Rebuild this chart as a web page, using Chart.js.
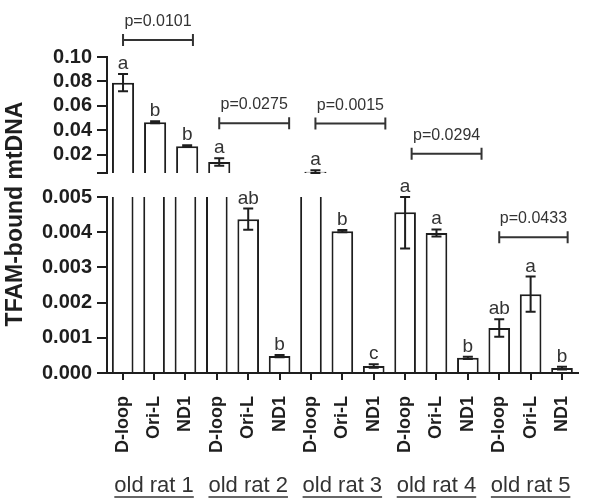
<!DOCTYPE html>
<html>
<head>
<meta charset="utf-8">
<script src="https://cdn.jsdelivr.net/npm/chart.js@4.4.0/dist/chart.umd.min.js"></script>
<style>
body { margin: 0; background: #fff; }
#wrap { position: relative; width: 600px; height: 502px; }
canvas { position: absolute; left: 0; top: 0; }
</style>
</head>
<body>
<div id="wrap">
  <canvas id="lower" width="600" height="502"></canvas>
  <canvas id="upper" width="600" height="502"></canvas>
</div>
<script>
const groups = ['old rat 1', 'old rat 2', 'old rat 3', 'old rat 4', 'old rat 5'];
const targets = ['D-loop', 'Ori-L', 'ND1'];
const labels = groups.flatMap(() => targets);

const means = [0.079, 0.0465, 0.027, 0.014, 0.00437, 0.00048, 0.006, 0.00403, 0.0002,
               0.00457, 0.00398, 0.00043, 0.00128, 0.00224, 0.00014];
const sems = [0.007, 0.0008, 0.0008, 0.003, 0.0003, 0.00003, 0.0012, 0.00003, 0.00005,
              0.00103, 0.0001, 0.00003, 0.00025, 0.0005, 0.00004];
const letters = ['a', 'b', 'b', 'a', 'ab', 'b', 'a', 'b', 'c', 'a', 'a', 'b', 'ab', 'a', 'b'];

const pValues = ['p=0.0101', 'p=0.0275', 'p=0.0015', 'p=0.0294', 'p=0.0433'];
const pLevels = [0.114, 0.0457, 0.0455, 0.0208, 0.00386];
const pPanel = ['upper', 'upper', 'upper', 'upper', 'lower'];

const split = 0.005;
const upperTicks = [0.005, 0.02, 0.04, 0.06, 0.08, 0.10];

const ink = '#1e1e1e';
const soft = '#333';

function marks(panel) {
    return {
        id: 'marks_' + panel,
        afterDatasetsDraw(chart) {
            const ctx = chart.ctx, x = chart.scales.x, y = chart.scales.y;
            const inPanel = v => panel === 'upper' ? v > split : v <= split;
            ctx.save();
            ctx.strokeStyle = ink;
            ctx.lineWidth = 2;
            // error bars + letters
            means.forEach((m, i) => {
                if (!inPanel(m)) return;
                const cx = x.getPixelForValue(i);
                const hi = y.getPixelForValue(Math.min(m + sems[i], y.max));
                const lo = y.getPixelForValue(Math.max(m - sems[i], y.min));
                ctx.beginPath();
                ctx.moveTo(cx, hi); ctx.lineTo(cx, lo);
                ctx.moveTo(cx - 5, hi); ctx.lineTo(cx + 5, hi);
                ctx.moveTo(cx - 5, lo); ctx.lineTo(cx + 5, lo);
                ctx.stroke();
                ctx.fillStyle = soft;
                ctx.font = '19px Arial';
                ctx.textAlign = 'center';
                ctx.textBaseline = 'alphabetic';
                ctx.fillText(letters[i], cx, hi - 5);
            });
            // p-value brackets
            ctx.strokeStyle = soft;
            pValues.forEach((p, g) => {
                if (pPanel[g] !== panel) return;
                const x1 = x.getPixelForValue(3 * g);
                const x2 = x.getPixelForValue(3 * g + 2.18);
                const yb = y.getPixelForValue(pLevels[g]);
                ctx.beginPath();
                ctx.moveTo(x1, yb); ctx.lineTo(x2, yb);
                ctx.moveTo(x1, yb - 6); ctx.lineTo(x1, yb + 6);
                ctx.moveTo(x2, yb - 6); ctx.lineTo(x2, yb + 6);
                ctx.stroke();
                ctx.fillStyle = soft;
                ctx.font = '16px Arial';
                ctx.textAlign = 'center';
                ctx.fillText(p, (x1 + x2) / 2, yb - 14);
            });
            if (panel === 'lower') {
                // group labels, underlined
                ctx.font = '22px Arial';
                ctx.fillStyle = soft;
                ctx.strokeStyle = '#666';
                groups.forEach((name, g) => {
                    const cx = x.getPixelForValue(3 * g + 1);
                    const w = ctx.measureText(name).width;
                    ctx.fillText(name, cx, 492);
                    ctx.beginPath();
                    ctx.moveTo(cx - w / 2, 497); ctx.lineTo(cx + w / 2, 497);
                    ctx.stroke();
                });
                // shared y title
                ctx.translate(16, 214);
                ctx.rotate(-Math.PI / 2);
                ctx.font = 'bold 23px Arial';
                ctx.fillStyle = ink;
                ctx.textBaseline = 'middle';
                ctx.fillText('TFAM-bound mtDNA', 0, 0);
            }
            ctx.restore();
        }
    };
}

const tickFont = { family: 'Arial', size: 20, weight: 'bold' };

function yAxis(extra) {
    return Object.assign({
        afterFit: s => { s.width = 107; },
        grid: { display: true, drawOnChartArea: false, tickLength: 10, color: ink, lineWidth: 2 },
        border: { color: ink, width: 2 },
    }, extra);
}

new Chart(document.getElementById('lower'), {
    type: 'bar',
    data: {
        labels: labels,
        datasets: [{
            data: means.map(m => [0, Math.min(m, split)]),
            backgroundColor: '#fff',
            borderColor: ink,
            borderSkipped: false,
            borderWidth: c => ({ left: 2, right: 2, bottom: 0, top: means[c.dataIndex] > split ? 0 : 2 }),
            barPercentage: 0.69,
            categoryPercentage: 1
        }]
    },
    options: {
        responsive: false,
        animation: false,
        layout: { padding: { top: 197, bottom: 0, left: 0, right: 12 } },
        plugins: { legend: { display: false }, tooltip: { enabled: false } },
        scales: {
            x: {
                offset: true,
                afterFit: s => { s.height = 129; },
                grid: { display: true, offset: false, drawOnChartArea: false, tickLength: 7, color: ink, lineWidth: 2 },
                border: { color: ink, width: 2 },
                ticks: {
                    autoSkip: false, minRotation: 90, maxRotation: 90, padding: 16,
                    color: ink, font: { family: 'Arial', size: 18, weight: 'bold' }
                }
            },
            y: yAxis({
                min: 0, max: split,
                ticks: { stepSize: 0.001, autoSkip: false, padding: 5, color: ink, font: tickFont, callback: v => v.toFixed(3) }
            })
        }
    },
    plugins: [marks('lower')]
});

new Chart(document.getElementById('upper'), {
    type: 'bar',
    data: {
        labels: labels,
        datasets: [{
            data: means.map(m => m > split ? [split, m] : null),
            backgroundColor: '#fff',
            borderColor: ink,
            borderSkipped: false,
            borderWidth: { left: 2, right: 2, bottom: 0, top: 2 },
            barPercentage: 0.69,
            categoryPercentage: 1
        }]
    },
    options: {
        responsive: false,
        animation: false,
        layout: { padding: { top: 57, bottom: 329, left: 0, right: 12 } },
        plugins: { legend: { display: false }, tooltip: { enabled: false } },
        scales: {
            x: { display: false, offset: true },
            y: yAxis({
                min: split, max: 0.10,
                afterBuildTicks: s => { s.ticks = upperTicks.map(v => ({ value: v })); },
                ticks: { autoSkip: false, padding: 5, color: ink, font: tickFont, callback: v => v === split ? '' : v.toFixed(2) }
            })
        }
    },
    plugins: [marks('upper')]
});
</script>
</body>
</html>
